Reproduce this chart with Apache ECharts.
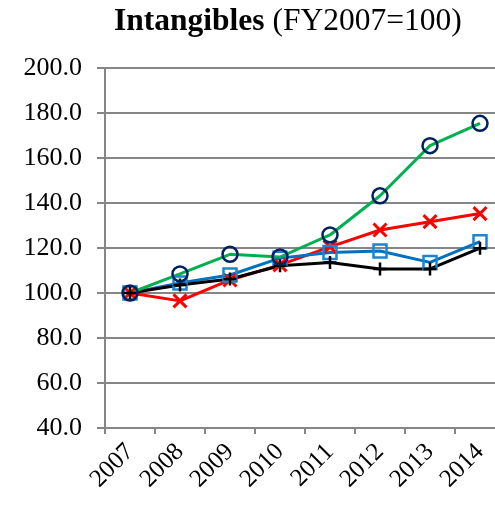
<!DOCTYPE html>
<html lang="en">
<head>
  <meta charset="UTF-8" />
  <title>Intangibles (FY2007=100)</title>
  <script src="https://cdn.jsdelivr.net/npm/echarts@6.0.0/dist/echarts.min.js"></script>
  <style>
    body { margin: 0; background: #fff; }
  </style>
</head>
<body>
  <div id="main" style="width: 495px; height: 505px;"></div>
  <script>
    const years = ['2007', '2008', '2009', '2010', '2011', '2012', '2013', '2014'];
    const greenCircle = [100, 108.5, 117.2, 116.0, 125.8, 143.2, 165.5, 175.4];
    const redCross = [100, 96.5, 105.8, 112.5, 120.5, 128.0, 131.7, 135.3];
    const blueSquare = [100, 104.5, 108.0, 115.5, 118.0, 118.7, 113.6, 122.8];
    const blackPlus = [100, 103.6, 106.2, 112.1, 113.6, 110.7, 110.7, 119.9];

    const serif = 'Liberation Serif';
    const gridGray = '#868686';

    const chart = echarts.init(document.getElementById('main'));

    chart.setOption({
      animation: false,
      title: {
        text: '{b|Intangibles} (FY2007=100)',
        left: 109,
        top: 1,
        textStyle: {
          fontFamily: serif,
          fontSize: 31.5,
          fontWeight: 'normal',
          color: '#000',
          rich: {
            b: { fontFamily: serif, fontSize: 31.5, fontWeight: 'bold', color: '#000' }
          }
        }
      },
      grid: {
        left: 105, top: 68, width: 400, height: 360,
        containLabel: false,
        outerBoundsMode: 'none'
      },
      xAxis: {
        type: 'category',
        data: years,
        boundaryGap: true,
        axisLine: { lineStyle: { color: gridGray, width: 2 } },
        axisTick: { show: true, length: 6, lineStyle: { color: gridGray, width: 2 } },
        axisLabel: {
          rotate: 45,
          margin: 20,
          fontFamily: serif,
          fontSize: 25,
          color: '#000',
          hideOverlap: false
        }
      },
      yAxis: {
        type: 'value',
        min: 40,
        max: 200,
        interval: 20,
        axisLine: { show: true, lineStyle: { color: gridGray, width: 2 } },
        axisTick: { show: true, length: 8, lineStyle: { color: gridGray, width: 2 } },
        splitLine: { lineStyle: { color: gridGray, width: 2 } },
        axisLabel: {
          margin: 23,
          fontFamily: serif,
          fontSize: 26,
          color: '#000',
          formatter: (v) => v.toFixed(1)
        }
      },
      series: [
        {
          name: 'red',
          type: 'line',
          data: redCross,
          symbol: 'path://M0,0L10,10M10,0L0,10',
          symbolSize: 13,
          lineStyle: { color: '#FF0000', width: 3 },
          itemStyle: { color: 'none', borderColor: '#FF0000', borderWidth: 3 }
        },
        {
          name: 'blue',
          type: 'line',
          data: blueSquare,
          symbol: 'rect',
          symbolSize: 13,
          lineStyle: { color: '#0070C0', width: 3 },
          itemStyle: { color: 'none', borderColor: '#1A86D0', borderWidth: 2.5 }
        },
        {
          name: 'black',
          type: 'line',
          data: blackPlus,
          symbol: 'path://M5,0L5,10M0,5L10,5',
          symbolSize: 13,
          lineStyle: { color: '#000', width: 3 },
          itemStyle: { color: 'none', borderColor: '#000', borderWidth: 2.5 }
        },
        {
          name: 'green',
          type: 'line',
          data: greenCircle,
          symbol: 'circle',
          symbolSize: 15,
          lineStyle: { color: '#00B050', width: 3 },
          itemStyle: { color: 'none', borderColor: '#002060', borderWidth: 2.5 }
        }
      ]
    });
  </script>
</body>
</html>
